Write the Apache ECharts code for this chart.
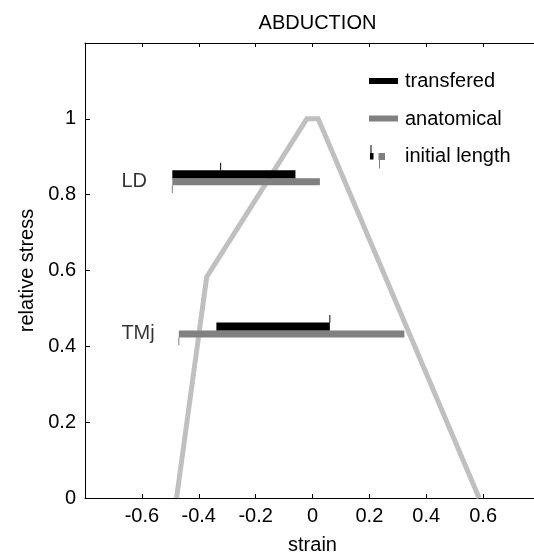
<!DOCTYPE html>
<html>
<head>
<meta charset="utf-8">
<script src="https://cdn.jsdelivr.net/npm/echarts@6/dist/echarts.min.js"></script>
<style>
html,body{margin:0;padding:0;background:#fff;}
#c{width:534px;height:556px;}
</style>
</head>
<body>
<div id="c"></div>
<script>
// ---- data ----
var curveX = [-0.478, -0.372, -0.02, 0.02, 0.586];
var curveY = [0, 0.583, 1, 1, 0];

var muscles = ['LD', 'TMj'];
var transStart = [-0.493, -0.338];
var transEnd = [-0.060, 0.061];
var transY = [0.854, 0.4525];
var transInit = [-0.323, 0.061];
var anatStart = [-0.493, -0.470];
var anatEnd = [0.026, 0.323];
var anatY = [0.834, 0.4327];
var anatInit = [-0.493, -0.470];

var xTicks = [-0.8, 0.8, 0.2];
var yTicks = [0, 1.2, 0.2];

var FONT = 'Liberation Sans, Arial, sans-serif';
var FS = 20;

var chart = echarts.init(document.getElementById('c'));

var series = [];
series.push({
  type: 'line',
  data: curveX.map(function (x, i) { return [x, curveY[i]]; }),
  symbol: 'none',
  lineStyle: { color: '#c0c0c0', width: 5, join: 'miter' },
  z: 1,
  silent: true
});

muscles.forEach(function (m, i) {
  series.push({
    type: 'line', symbol: 'none', silent: true, z: 3,
    data: [[transStart[i], transY[i]], [transEnd[i], transY[i]]],
    lineStyle: { color: '#000', width: 8, cap: 'butt' }
  });
  series.push({
    type: 'line', symbol: 'none', silent: true, z: 2,
    data: [[anatStart[i], anatY[i]], [anatEnd[i], anatY[i]]],
    lineStyle: { color: '#808080', width: 7, cap: 'butt' }
  });
  series.push({
    type: 'line', symbol: 'none', silent: true, z: 3,
    data: [[transInit[i], transY[i] + 0.01], [transInit[i], transY[i] + 0.03]],
    lineStyle: { color: '#000', width: 1 }
  });
  series.push({
    type: 'line', symbol: 'none', silent: true, z: 3,
    data: [[anatInit[i], anatY[i] - 0.009], [anatInit[i], anatY[i] - 0.03]],
    lineStyle: { color: '#808080', width: 1 }
  });
});

series.push({
  type: 'scatter', symbolSize: 0, silent: true,
  data: muscles.map(function (m, i) { return { name: m, value: [-0.672, anatY[i]] }; }),
  label: {
    show: true, position: 'inside', align: 'left', verticalAlign: 'middle',
    formatter: '{b}', color: '#000', fontSize: FS, fontFamily: FONT
  }
});

function fmt(v) {
  var r = Math.round(v * 10) / 10;
  return String(r);
}

var axisLine = { show: true, onZero: false, lineStyle: { color: '#000', width: 1 } };

chart.setOption({
  animation: false,
  backgroundColor: '#fff',
  title: {
    text: 'ABDUCTION', left: 312.5, top: 8, textAlign: 'center',
    textStyle: { fontSize: FS, fontWeight: 'normal', color: '#000', fontFamily: FONT }
  },
  grid: { left: 85, top: 43, width: 455, height: 455, containLabel: false, outerBoundsMode: 'none' },
  xAxis: [{
    type: 'value', min: xTicks[0], max: xTicks[1], interval: xTicks[2],
    position: 'bottom',
    name: 'strain', nameLocation: 'middle', nameGap: 37,
    nameTextStyle: { fontSize: FS, color: '#000', fontFamily: FONT },
    axisLine: axisLine,
    axisTick: { show: true, inside: true, length: 4, lineStyle: { color: '#000' } },
    axisLabel: {
      margin: 8, color: '#000', fontSize: FS, fontFamily: FONT,
      formatter: function (v) { return (Math.abs(v) > 0.75) ? '' : fmt(v); }
    },
    splitLine: { show: false }
  }, {
    type: 'value', min: xTicks[0], max: xTicks[1], interval: xTicks[2],
    position: 'top',
    axisLine: axisLine,
    axisTick: { show: true, inside: true, length: 4, lineStyle: { color: '#000' } },
    axisLabel: { show: false },
    splitLine: { show: false }
  }],
  yAxis: [{
    type: 'value', min: yTicks[0], max: yTicks[1], interval: yTicks[2],
    position: 'left',
    name: 'relative stress', nameLocation: 'middle', nameGap: 48, nameRotate: 90,
    nameTextStyle: { fontSize: FS, color: '#000', fontFamily: FONT },
    axisLine: axisLine,
    axisTick: { show: true, inside: true, length: 5, lineStyle: { color: '#000' } },
    axisLabel: {
      margin: 9, color: '#000', fontSize: FS, fontFamily: FONT,
      formatter: function (v) { return v > 1.1 ? '' : fmt(v); }
    },
    splitLine: { show: false }
  }],
  series: series,
  graphic: [
    { type: 'rect', shape: { x: 369, y: 78, width: 29, height: 6 }, style: { fill: '#000' } },
    { type: 'rect', shape: { x: 369, y: 115.5, width: 29, height: 6 }, style: { fill: '#808080' } },
    { type: 'rect', shape: { x: 370, y: 153, width: 3.5, height: 6.5 }, style: { fill: '#000' } },
    { type: 'line', shape: { x1: 371, y1: 145, x2: 371, y2: 153 }, style: { stroke: '#000', lineWidth: 1 } },
    { type: 'rect', shape: { x: 378.5, y: 153, width: 6.5, height: 7 }, style: { fill: '#808080' } },
    { type: 'line', shape: { x1: 379.5, y1: 160, x2: 379.5, y2: 168.5 }, style: { stroke: '#808080', lineWidth: 1 } },
    { type: 'text', x: 405, y: 81.5, style: { text: 'transfered', fill: '#000', fontSize: FS, fontFamily: FONT, verticalAlign: 'middle' } },
    { type: 'text', x: 405, y: 119, style: { text: 'anatomical', fill: '#000', fontSize: FS, fontFamily: FONT, verticalAlign: 'middle' } },
    { type: 'text', x: 405, y: 156.5, style: { text: 'initial length', fill: '#000', fontSize: FS, fontFamily: FONT, verticalAlign: 'middle' } }
  ]
});
</script>
</body>
</html>
